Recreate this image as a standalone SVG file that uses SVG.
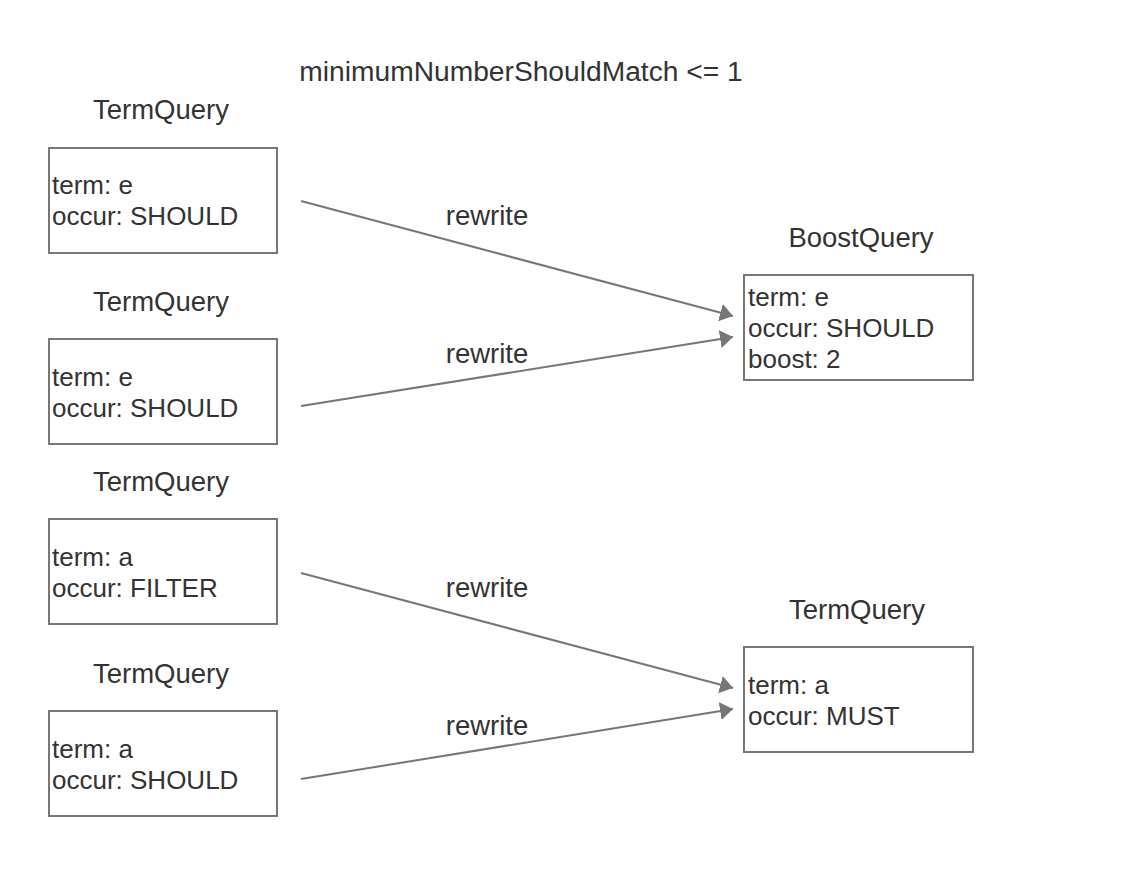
<svg xmlns="http://www.w3.org/2000/svg" width="1144" height="874" viewBox="0 0 1144 874">
<defs>
<style>
.box{fill:#fff;stroke:#777;stroke-width:2}
.t{font-family:"Liberation Sans",Arial,sans-serif;fill:#333;font-size:26px}
.h{font-family:"Liberation Sans",Arial,sans-serif;fill:#333;font-size:27.5px;text-anchor:middle}
.c{stroke:#777;stroke-width:2;fill:none;marker-end:url(#ah)}
</style>
<marker id="ah" markerUnits="userSpaceOnUse" markerWidth="16" markerHeight="20" refX="13" refY="9" orient="auto">
<path d="M0,0 L13,9 L0,18 Z" fill="#777"/>
</marker>
</defs>
<rect width="1144" height="874" fill="#fff"/>
<text class="h" x="521" y="81" style="font-size:28.2px">minimumNumberShouldMatch &lt;= 1</text>
<g id="connectors">
<line class="c" x1="301" y1="201" x2="733" y2="316"/>
<line class="c" x1="301" y1="406" x2="733" y2="337"/>
<line class="c" x1="301" y1="573" x2="733" y2="688"/>
<line class="c" x1="301" y1="779" x2="733" y2="709"/>
<text class="h" x="487" y="225">rewrite</text>
<text class="h" x="487" y="363">rewrite</text>
<text class="h" x="487" y="597">rewrite</text>
<text class="h" x="487" y="735">rewrite</text>
</g>
<g id="node1">
<text class="h" x="161" y="119">TermQuery</text>
<rect class="box" x="49" y="148" width="228" height="105"/>
<text class="t" x="52" y="194">term: e</text>
<text class="t" x="52" y="225">occur: SHOULD</text>
</g>
<g id="node2">
<text class="h" x="161" y="311">TermQuery</text>
<rect class="box" x="49" y="339" width="228" height="105"/>
<text class="t" x="52" y="386">term: e</text>
<text class="t" x="52" y="417">occur: SHOULD</text>
</g>
<g id="node3">
<text class="h" x="161" y="491">TermQuery</text>
<rect class="box" x="49" y="519" width="228" height="105"/>
<text class="t" x="52" y="566">term: a</text>
<text class="t" x="52" y="597">occur: FILTER</text>
</g>
<g id="node4">
<text class="h" x="161" y="683">TermQuery</text>
<rect class="box" x="49" y="711" width="228" height="105"/>
<text class="t" x="52" y="758">term: a</text>
<text class="t" x="52" y="789">occur: SHOULD</text>
</g>
<g id="node5">
<text class="h" x="861" y="247">BoostQuery</text>
<rect class="box" x="744" y="275" width="229" height="105"/>
<text class="t" x="748" y="306">term: e</text>
<text class="t" x="748" y="337">occur: SHOULD</text>
<text class="t" x="748" y="368">boost: 2</text>
</g>
<g id="node6">
<text class="h" x="857" y="619">TermQuery</text>
<rect class="box" x="744" y="647" width="229" height="105"/>
<text class="t" x="748" y="694">term: a</text>
<text class="t" x="748" y="725">occur: MUST</text>
</g>
</svg>
